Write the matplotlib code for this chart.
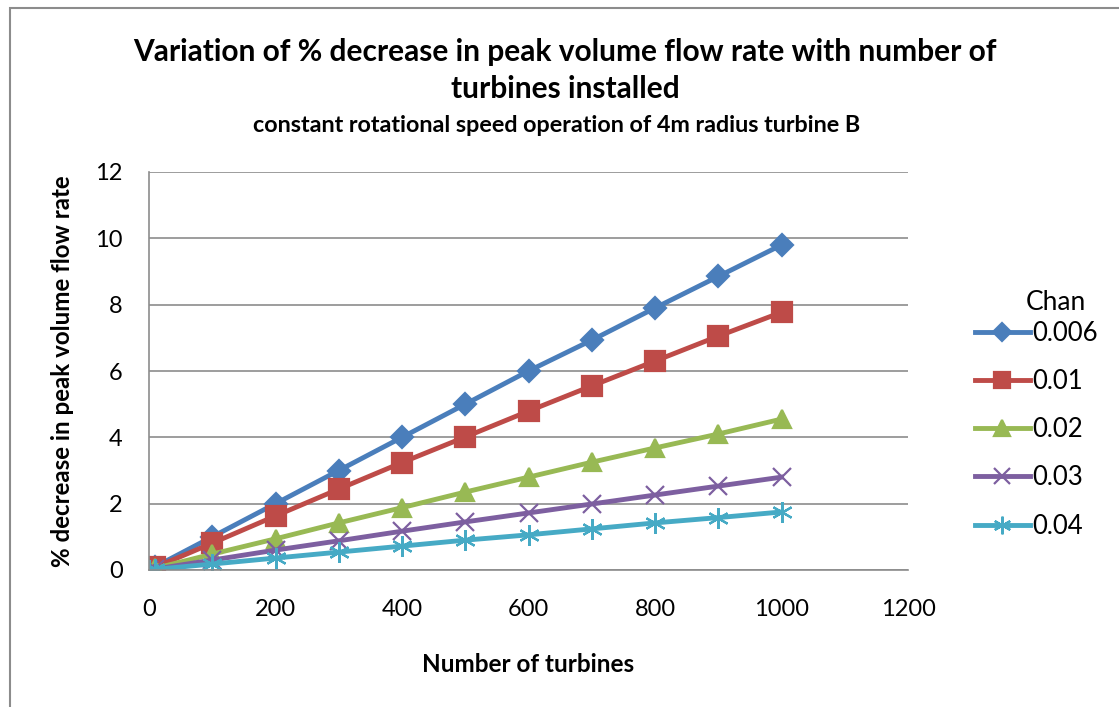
import matplotlib
matplotlib.use('Agg')
import matplotlib.pyplot as plt
from matplotlib.patches import Rectangle

plt.rcParams['font.family'] = ['Lato', 'DejaVu Sans']

# number of turbines installed
turbines = [0, 10, 100, 200, 300, 400, 500, 600, 700, 800, 900, 1000]

# % decrease in peak volume flow rate for each channel value
chan_0006 = [0, 0.10, 1.0, 2.0, 3.0, 4.0, 5.0, 6.0, 6.93, 7.9, 8.85, 9.8]
chan_001 = [0, 0.08, 0.81, 1.63, 2.44, 3.24, 4.01, 4.79, 5.55, 6.3, 7.05, 7.77]
chan_002 = [0, 0.05, 0.48, 0.94, 1.42, 1.88, 2.35, 2.8, 3.25, 3.68, 4.1, 4.55]
chan_003 = [0, 0.03, 0.3, 0.6, 0.88, 1.17, 1.45, 1.72, 1.99, 2.26, 2.53, 2.8]
chan_004 = [0, 0.02, 0.18, 0.36, 0.54, 0.72, 0.9, 1.06, 1.24, 1.42, 1.58, 1.75]

series = [
    ('0.006', chan_0006, '#4a7ebb', 'D', 11),
    ('0.01', chan_001, '#be4b48', 's', 14),
    ('0.02', chan_002, '#98b954', '^', 13),
    ('0.03', chan_003, '#7d5fa0', 'x', 13),
    ('0.04', chan_004, '#46aac5', (6, 2, 0), 15),
]

W, H = 1119, 707
fig = plt.figure(figsize=(W / 100, H / 100), dpi=100)
ax = fig.add_axes([149 / W, 1 - 570 / H, (908 - 149) / W, (570 - 172) / H])

# outer chart frame
fig.patches.append(Rectangle((10 / W, -0.01), 1.1, 1 - 8 / H + 0.01, transform=fig.transFigure,
                             fill=False, edgecolor='#8c8c8c', lw=1.5))

for name, vals, col, mk, ms in series:
    ax.plot(turbines, vals, color=col, lw=3.5, marker=mk, markersize=ms,
            markeredgecolor=col, markeredgewidth=1.6, label=name)

ax.set_xlim(0, 1200)
ax.set_ylim(0, 12)
ax.set_xticks(range(0, 1201, 200))
ax.set_yticks(range(0, 13, 2))
ax.grid(axis='y', color='#8c8c8c', lw=1.2)
ax.set_axisbelow(True)
for s in ['top', 'right']:
    ax.spines[s].set_visible(False)
for s in ['left', 'bottom']:
    ax.spines[s].set_color('#8c8c8c')
    ax.spines[s].set_linewidth(1.2)
ax.tick_params(axis='both', labelsize=17, length=0)
ax.tick_params(axis='y', pad=19)
ax.tick_params(axis='x', pad=21)

ax.set_xlabel('Number of turbines', fontsize=17.5, fontweight='bold', labelpad=24)
ax.set_ylabel('% decrease in peak volume flow rate', fontsize=17.4, fontweight='bold', labelpad=15)

fig.text(0.505, 0.9, 'Variation of % decrease in peak volume flow rate with number of\nturbines installed',
         ha='center', va='center', fontsize=21.5, fontweight='bold', linespacing=1.4)
fig.text(0.497, 0.822, 'constant rotational speed operation of 4m radius turbine B',
         ha='center', va='center', fontsize=16.8, fontweight='bold')

# legend on the right, title drawn separately
leg = fig.legend(*ax.get_legend_handles_labels(), loc='upper left',
                 bbox_to_anchor=(975 / W, 1 - 321 / H), frameon=False,
                 fontsize=18.5, labelspacing=0.9, borderpad=0, borderaxespad=0,
                 handlelength=2.14, handletextpad=0.08, markerscale=0.85)
fig.text(1056 / W, 1 - 302 / H, 'Chan', ha='center', va='center', fontsize=19)

fig.savefig('out.png', dpi=100)
